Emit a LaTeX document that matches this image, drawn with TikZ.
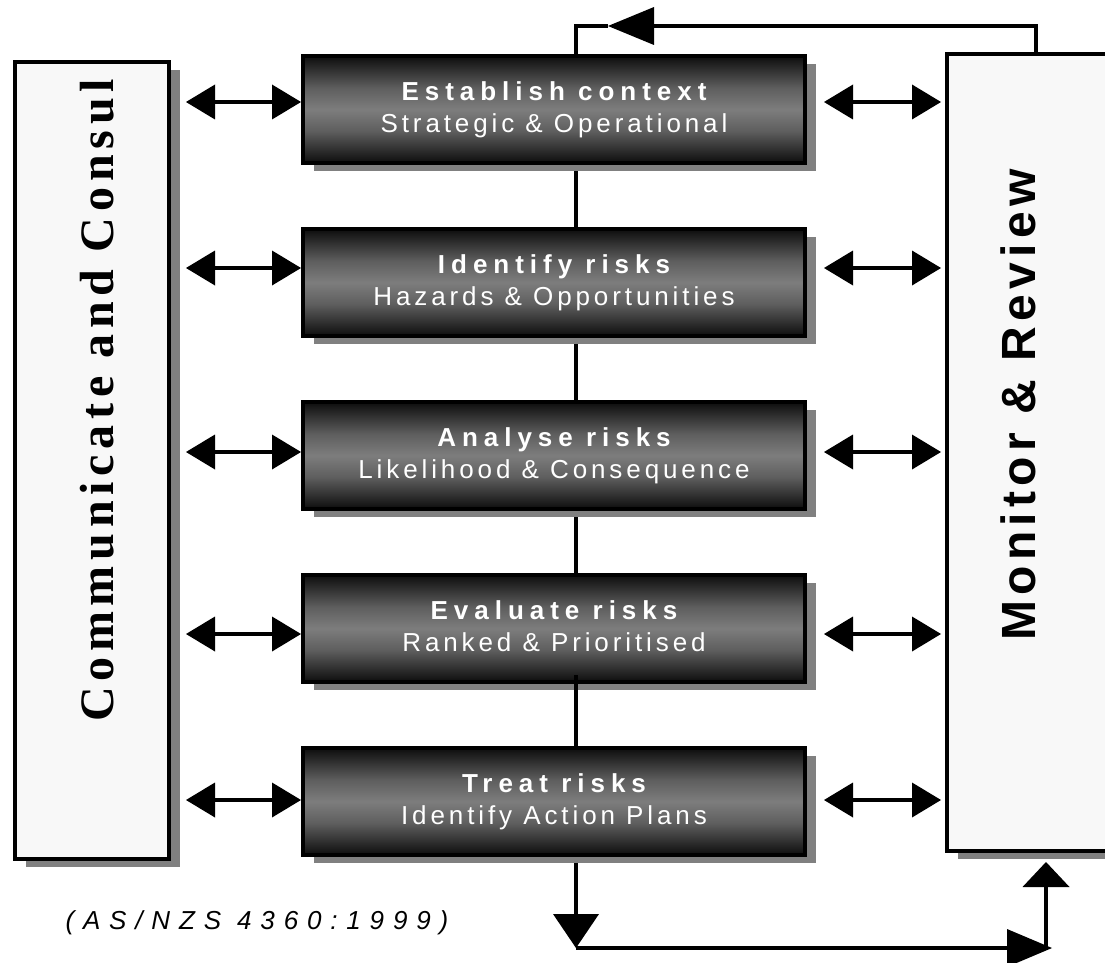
\documentclass[tikz,border=0pt]{standalone}
\usepackage{fontspec}
\setmainfont{Liberation Sans}
\newfontfamily\stagetitle[LetterSpace=23]{Liberation Sans}
\newfontfamily\stagesub[LetterSpace=15]{Liberation Sans}
\newfontfamily\monfont[LetterSpace=11]{Liberation Sans}
\newfontfamily\comfont[LetterSpace=12]{Liberation Serif}
\newfontfamily\reffont[LetterSpace=34]{Liberation Sans}
\usetikzlibrary{arrows.meta,shadows,backgrounds}

\definecolor{panelfill}{HTML}{F8F8F8}
\definecolor{shadowgray}{HTML}{808080}
\definecolor{shA}{gray}{0.05}
\definecolor{shB}{gray}{0.20}
\definecolor{shC}{gray}{0.37}
\definecolor{shD}{gray}{0.49}
% dark at the top and bottom edges, grey through the middle
\pgfdeclareverticalshading{stageshade}{100bp}{color(0bp)=(black); color(25bp)=(shA); color(32bp)=(shB); color(40bp)=(shC); color(50bp)=(shD); color(60bp)=(shC); color(68bp)=(shB); color(75bp)=(shA); color(100bp)=(black)}

\tikzset{
  boxshadow/.style={drop shadow={fill=shadowgray, opacity=1, shadow xshift=11pt, shadow yshift=-8pt}},
  stage/.style={draw=black, line width=4pt, shading=stageshade, minimum width=502pt,
    minimum height=107pt, inner sep=0pt, align=center, text=white,
    font=\fontsize{26pt}{32pt}\selectfont, boxshadow},
  panel/.style={draw=black, line width=4pt, fill=panelfill, inner sep=0pt, boxshadow},
  conn/.style={line width=4pt, black},
  dbl/.style={conn, {Triangle[length=29pt,width=35pt,line width=0pt]}-{Triangle[length=29pt,width=35pt,line width=0pt]}},
}

\begin{document}
\begin{tikzpicture}[x=1pt,y=-1pt]
\useasboundingbox (0,0) rectangle (1105,963);
\begin{pgfonlayer}{background}
  \fill[white] (0,0) rectangle (1105,963);
\end{pgfonlayer}
\clip (0,0) rectangle (1105,963);

% side panels
\node[panel, minimum width=154pt, minimum height=797pt] (lp) at (92,460.5) {};
\node[panel, minimum width=193pt, minimum height=797pt] (mon) at (1043.5,452.5) {};
\node[rotate=90, anchor=base, font=\comfont\bfseries\fontsize{48pt}{52pt}\selectfont] (comtext) at (113,400.5) {Communicate and Consul};
\node[rotate=90, anchor=base, font=\monfont\bfseries\fontsize{48pt}{52pt}\selectfont] (montext) at (1035,405) {Monitor \& Review};

% process stages
\node[stage] (b1) at (554,109.5) {{\stagetitle\bfseries Establish context}\\{\stagesub Strategic \& Operational\vphantom{g}}};
\node[stage] (b2) at (554,282.5) {{\stagetitle\bfseries Identify risks}\\{\stagesub Hazards \& Opportunities\vphantom{g}}};
\node[stage] (b3) at (554,455.5) {{\stagetitle\bfseries Analyse risks}\\{\stagesub Likelihood \& Consequence\vphantom{g}}};
\node[stage] (b4) at (554,628.5) {{\stagetitle\bfseries Evaluate risks}\\{\stagesub Ranked \& Prioritised\vphantom{g}}};
\node[stage] (b5) at (554,801.5) {{\stagetitle\bfseries Treat risks}\\{\stagesub Identify Action Plans\vphantom{g}}};

\node[anchor=base west, font=\reffont\itshape\fontsize{26pt}{30pt}\selectfont] (std) at (62,929) {(AS/NZS 4360:1999)};

% guide coordinates
\coordinate (spine) at (576,0);
\coordinate (loopx) at (1036,0);
\coordinate (tl) at (608,26);
\coordinate (bl) at (576,948);
\coordinate (br) at (1052,948);
\coordinate (bup) at (1046,948);
\coordinate (mdock) at (1046,862);
\coordinate (lx) at ([xshift=15pt]lp.east);
\coordinate (mx) at ([xshift=-4pt]mon.west);

% spine between stages
\begin{pgfonlayer}{background}
  \draw[conn] (b1.south -| spine) -- (b2.north -| spine);
  \draw[conn] (b2.south -| spine) -- (b3.north -| spine);
  \draw[conn] (b3.south -| spine) -- (b4.north -| spine);
  \draw[conn, -{Triangle[length=34pt,width=46pt,line width=0pt]}] (b5.south -| spine) -- (bl);
\end{pgfonlayer}
\draw[conn] ([yshift=9pt]b4.south -| spine) -- (b5.north -| spine);

% feedback loop over the top
\draw[conn, -{Triangle[length=46pt,width=38pt,line width=0pt]}] (mon.north -| loopx) |- (tl);
\draw[conn] (tl) -| (b1.north -| spine);

% return path along the bottom
\draw[conn, -{Triangle[length=45pt,width=38pt,line width=0pt]}] (bl) -- (br);
\draw[conn, -{Triangle[length=25pt,width=47pt,line width=0pt]}] (bup) -- (mdock);

% two-way links to the side panels
\foreach \b/\y in {b1/102, b2/268, b3/452, b4/634, b5/800} {
  \coordinate (sx) at ([xshift=17pt]\b.east);
  \draw[dbl] (lx |- 0,\y) -- (\b.west |- 0,\y);
  \draw[dbl] (sx |- 0,\y) -- (mx |- 0,\y);
}
\end{tikzpicture}
\end{document}
